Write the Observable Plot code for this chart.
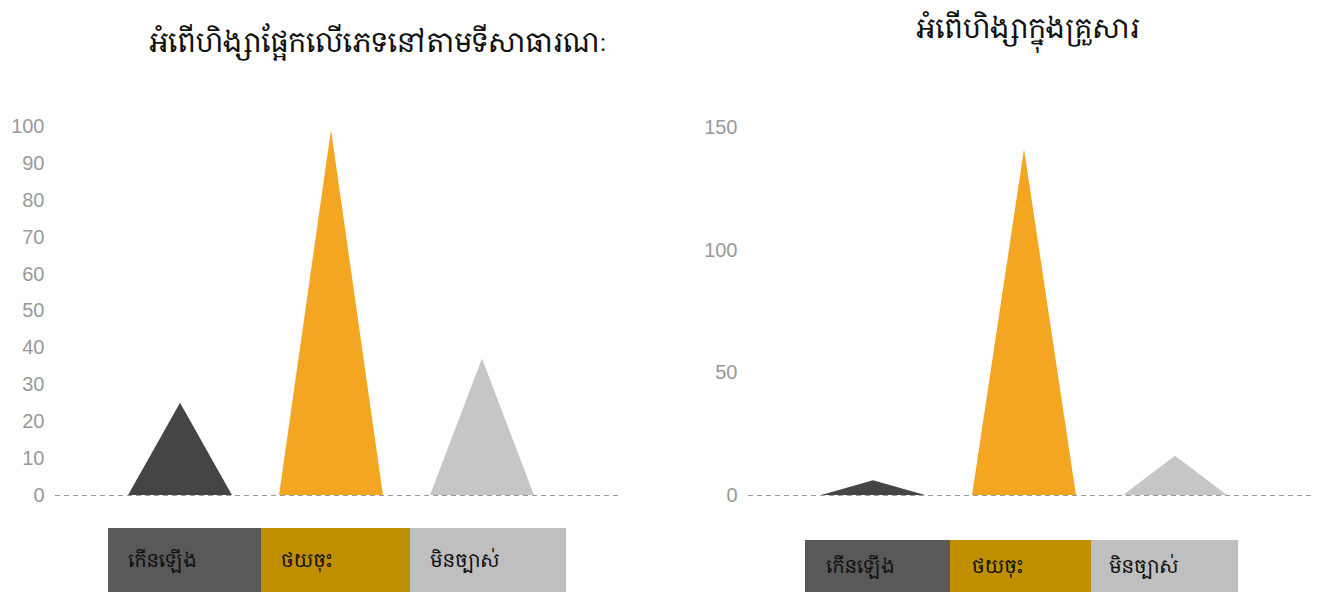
<!DOCTYPE html>
<html>
<head>
<meta charset="utf-8">
<script src="https://cdn.jsdelivr.net/npm/d3@7"></script>
<script src="https://cdn.jsdelivr.net/npm/@observablehq/plot@0.6"></script>
<style>
  html, body { margin: 0; padding: 0; background: #fff; width: 1322px; height: 592px; overflow: hidden; }
  .khmer { font-family: "Khmer OS Siemreap", "Khmer OS", "Noto Serif Khmer", "Noto Sans Khmer", "Khmer", serif; }
  .title { position: absolute; font-size: 27.5px; color: #111; white-space: nowrap; transform: translateX(-50%); }
  .chart { position: absolute; top: 100px; }
  .legend { position: absolute; display: flex; }
  .legend div { height: 100%; box-sizing: border-box; font-size: 19px; color: #111; display: flex; align-items: center; }
</style>
</head>
<body>
<div id="t1" class="title khmer" style="left:378px; top:23px;"></div>
<div id="t2" class="title khmer" style="left:1028px; top:9px;"></div>
<div id="c1" class="chart" style="left:0px;"></div>
<div id="c2" class="chart" style="left:693px;"></div>
<div id="l1" class="legend khmer" style="left:108px; top:528px; height:64px;"></div>
<div id="l2" class="legend khmer" style="left:805px; top:540px; height:52px;"></div>
<script>
const titles = ["អំពើហិង្សាផ្អែកលើភេទនៅតាមទីសាធារណៈ", "អំពើហិង្សាក្នុងគ្រួសារ"];
const categories = ["កើនឡើង", "ថយចុះ", "មិនច្បាស់"];
const publicValues = [25, 99, 37];
const domesticValues = [6, 141, 16];
const markColors = ["#454545", "#f4a522", "#c6c6c6"];
const legendColors = ["#595959", "#bf8f00", "#bfbfbf"];
const publicTicks = [0, 10, 20, 30, 40, 50, 60, 70, 80, 90, 100];
const domesticTicks = [0, 50, 100, 150];
const legendWidths1 = [153, 149, 156];
const legendWidths2 = [145, 141, 147];

document.getElementById("t1").textContent = titles[0];
document.getElementById("t2").textContent = titles[1];

function triangles(values) {
  const half = 0.344;
  const rows = [];
  values.forEach((v, i) => {
    rows.push({cat: categories[i], x: i - half, y: 0});
    rows.push({cat: categories[i], x: i, y: v});
    rows.push({cat: categories[i], x: i + half, y: 0});
  });
  return rows;
}

function chart(values, ticks, yMax, width, marginRight, marginTop) {
  return Plot.plot({
    width: width,
    height: 420,
    marginLeft: 55,
    marginRight: marginRight,
    marginTop: marginTop,
    marginBottom: 25,
    style: {fontFamily: "Arial, 'Liberation Sans', sans-serif", fontSize: "20px", color: "#999", background: "transparent"},
    x: {domain: [-0.828, 2.914], axis: null},
    y: {domain: [0, yMax], ticks: ticks, tickSize: 0, tickPadding: 11, label: null},
    color: {domain: categories, range: markColors},
    marks: [
      Plot.areaY(triangles(values), {x: "x", y: "y", z: "cat", fill: "cat", curve: "linear"}),
      Plot.ruleY([0], {stroke: "#999", strokeWidth: 1.2, strokeDasharray: "5,4"})
    ]
  });
}

document.getElementById("c1").appendChild(chart(publicValues, publicTicks, 100, 660, 40, 26));
document.getElementById("c2").appendChild(chart(domesticValues, domesticTicks, 150, 629, 9, 27));

function legend(id, widths, pad) {
  const el = document.getElementById(id);
  categories.forEach((c, i) => {
    const d = document.createElement("div");
    d.style.background = legendColors[i];
    d.style.width = widths[i] + "px";
    d.style.paddingLeft = pad[i] + "px";
    d.textContent = c;
    el.appendChild(d);
  });
}
legend("l1", legendWidths1, [20, 20, 20]);
legend("l2", legendWidths2, [21, 22, 18]);
</script>
</body>
</html>
